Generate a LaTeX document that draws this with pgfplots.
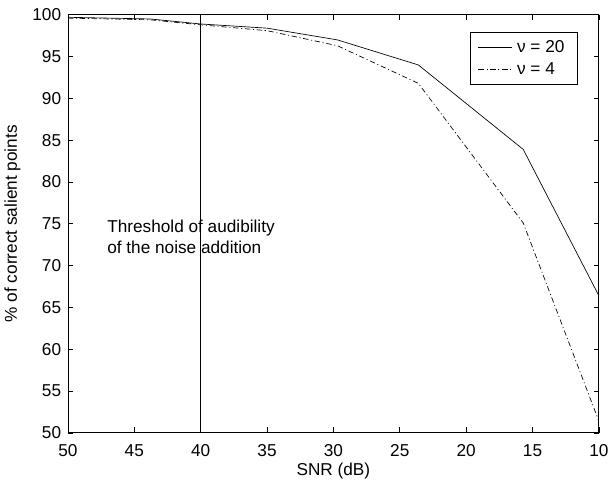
\documentclass[border=0pt]{standalone}
\usepackage{fontspec}
\setmainfont{Liberation Sans}
\usepackage{pgfplots}
\pgfplotsset{compat=1.18}
\begin{document}
\begin{tikzpicture}
\begin{axis}[
  scale only axis,
  width=395pt, height=311pt,
  x dir=reverse,
  xmin=10, xmax=50, ymin=50, ymax=100,
  xtick={10,15,...,50}, ytick={50,55,...,100},
  tick align=inside,
  major tick length=4pt,
  tick style={black, line width=0.5pt},
  axis line style={line width=0.6pt},
  xtick pos=both, ytick pos=both,
  /pgf/number format/assume math mode=true,
  ticklabel style={font=\fontsize{12.8}{14}\selectfont},
  yticklabel style={xshift=-1.5pt},
  xticklabel style={yshift=-5pt},
  label style={font=\fontsize{12.8}{14}\selectfont},
  xlabel={SNR (dB)},
  ylabel={\% of correct salient points},
  xlabel style={yshift=2pt},
  ylabel style={yshift=2pt},
  legend style={at={(axis description cs:0.96,0.958)}, anchor=north east, draw=black, line width=0.6pt,
    font=\fontsize{12.8}{14}\selectfont, inner xsep=6pt, inner ysep=4pt, row sep=2pt,
    legend cell align=left,
    nodes={inner xsep=3.5pt}},
  legend image code/.code={\draw[#1] (0pt,0pt) -- (25pt,0pt);},
]
\addplot[black, line width=0.5pt] coordinates {
 (50,99.7) (43.8,99.5) (40,98.9) (35,98.4) (29.7,97.0) (23.6,94.0) (15.7,83.9) (10,66.4)
};
\addlegendentry{ν = 20}
\addplot[black, line width=0.5pt, dash pattern=on 4pt off 2pt on 0.8pt off 2pt] coordinates {
 (50,99.6) (43.8,99.4) (40,98.8) (35,98.1) (29.7,96.3) (23.6,91.8) (15.7,75.1) (10,51.4)
};
\addlegendentry{ν = 4}
\draw[black, line width=0.5pt] (axis cs:40,50) -- (axis cs:40,100);
\node[anchor=west, align=left, font=\fontsize{12.8}{15.5}\selectfont, inner sep=0pt] at (axis cs:47.05,73.4)
  {Threshold of audibility\\of the noise addition};
\end{axis}
\path (current axis.north west) ++(-50pt,11pt);
\path (current axis.south east) ++(10.5pt,-35pt);
\end{tikzpicture}
\end{document}
